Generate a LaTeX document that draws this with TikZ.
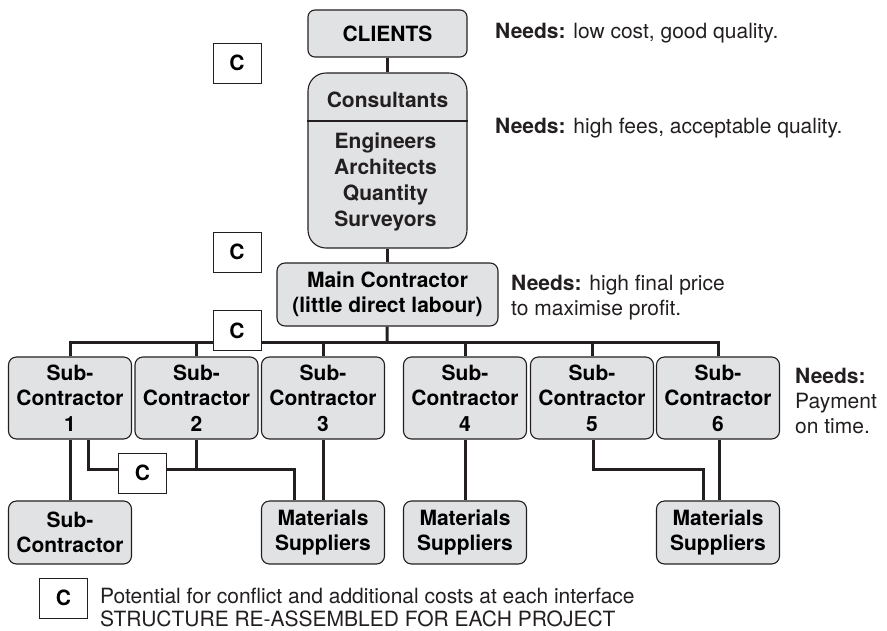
\documentclass[tikz,border=0pt]{standalone}
\usepackage{fontspec}
\setmainfont{TeX Gyre Heros}
\definecolor{boxgray}{RGB}{225,226,228}
\definecolor{ink}{RGB}{35,31,32}
\begin{document}
\begin{tikzpicture}[x=1pt,y=-1pt,
  box/.style={draw=ink, fill=boxgray, rounded corners=8pt, line width=1.1pt, align=center,
    font=\bfseries\fontsize{21}{25.5}\selectfont, inner sep=0pt},
  cbox/.style={draw=ink, fill=white, line width=1pt, minimum width=48pt, minimum height=40pt,
    inner sep=0pt, font=\bfseries\fontsize{21}{25.5}\selectfont},
  conn/.style={draw=ink, line width=3pt},
  txt/.style={anchor=base west, inner sep=0pt, font=\fontsize{21}{25}\selectfont, text=ink},
  plain/.style={inner sep=0pt, font=\bfseries\fontsize{21}{26}\selectfont, text=ink, align=center}]
\path[use as bounding box] (0,0) rectangle (887,630);

% top boxes
\node[box, rounded corners=7pt, minimum width=159pt, minimum height=47pt] (clients) at (387.5,33.5) {CLIENTS};
\node[box, rounded corners=18pt, minimum width=159pt, minimum height=175pt] (cons) at (387.5,160.5) {};
\draw[draw=ink, line width=1.1pt] (cons.west |- 0,121) -- (cons.east |- 0,121);
\node[plain] (consa) at (387.5,100) {Consultants};
\node[plain] (consb) at (385.5,182) {Engineers\\Architects\\Quantity\\Surveyors};
\node[box, minimum width=221pt, minimum height=63pt] (main) at (387.5,294.5) {Main Contractor\\(little direct labour)};

% sub-contractors
\node[box, minimum width=123pt, minimum height=82pt] (s1) at (70,398) {Sub-\\Contractor\\1};
\node[box, minimum width=123pt, minimum height=82pt] (s2) at (196.5,398) {Sub-\\Contractor\\2};
\node[box, minimum width=123pt, minimum height=82pt] (s3) at (323,398) {Sub-\\Contractor\\3};
\node[box, minimum width=123pt, minimum height=82pt] (s4) at (465,398) {Sub-\\Contractor\\4};
\node[box, minimum width=123pt, minimum height=82pt] (s5) at (592,398) {Sub-\\Contractor\\5};
\node[box, minimum width=123pt, minimum height=82pt] (s6) at (718,398) {Sub-\\Contractor\\6};

% bottom row
\node[box, minimum width=123pt, minimum height=63pt] (bsub) at (70,532.5) {Sub-\\Contractor};
\node[box, minimum width=123pt, minimum height=63pt] (m1) at (323,532.5) {Materials\\Suppliers};
\node[box, minimum width=123pt, minimum height=63pt] (m2) at (465,532.5) {Materials\\Suppliers};
\node[box, minimum width=123pt, minimum height=63pt] (m3) at (718,532.5) {Materials\\Suppliers};

% connectors
\coordinate (bus) at (387,342);
\coordinate (j1) at (294,469);
\coordinate (j2) at (703,469);
\draw[conn] (clients) -- (cons);
\draw[conn] (cons) -- (main);
\draw[conn] (main) -- (bus);
\draw[conn] (s1.north) |- (bus) -| (s6.north);
\draw[conn] (s2.north) -- (s2.north |- bus);
\draw[conn] (s3.north) -- (s3.north |- bus);
\draw[conn] (s4.north) -- (s4.north |- bus);
\draw[conn] (s5.north) -- (s5.north |- bus);
\draw[conn] (s1.south) -- (bsub.north);
\draw[conn] ([xshift=18pt]s1.south) |- (j1) -- (j1 |- m1.north);
\draw[conn] (s2.south) -- (s2.south |- j1);
\draw[conn] (s3.south) -- (m1.north);
\draw[conn] (s4.south) -- (m2.north);
\draw[conn] ([xshift=1pt]s5.south) |- (j2) -- (j2 |- m3.north);
\draw[conn] ([xshift=1pt]s6.south) -- ([xshift=1pt]m3.north);

% conflict boxes
\node[cbox] (c1) at (237,63) {C};
\node[cbox] (c2) at (237,252) {C};
\node[cbox] (c3) at (237,330.5) {C};
\node[cbox] (c4) at (142.5,473) {C};
\node[cbox] (c5) at (63.5,598) {C};

% needs texts
\node[txt] (n1) at (495,38) {\textbf{Needs:} low cost, good quality.};
\node[txt] (n2) at (495,133) {\textbf{Needs:} high fees, acceptable quality.};
\node[txt] (n3a) at (511,290) {\textbf{Needs:} high final price};
\node[txt] (n3b) at (511,315) {to maximise profit.};
\node[txt] (n4a) at (795,383) {\textbf{Needs:}};
\node[txt] (n4b) at (795,408) {Payment};
\node[txt] (n4c) at (795,433) {on time.};

% legend
\node[txt] (l1) at (100,603) {Potential for conflict and additional costs at each interface};
\node[txt] (l2) at (100,626.5) {STRUCTURE RE-ASSEMBLED FOR EACH PROJECT};
\end{tikzpicture}
\end{document}
